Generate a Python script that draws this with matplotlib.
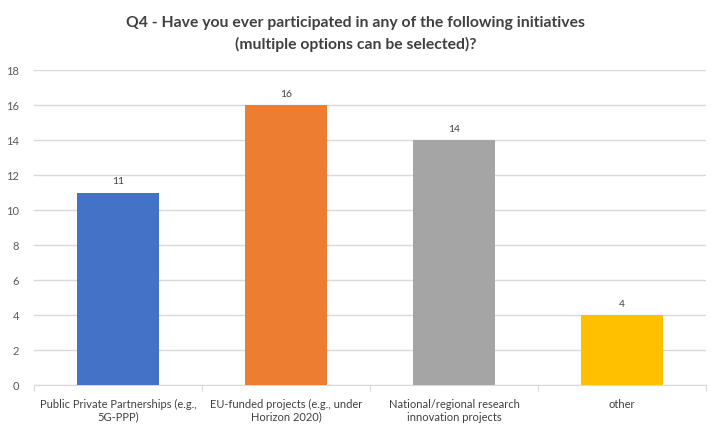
import matplotlib
matplotlib.use("Agg")
import matplotlib.pyplot as plt

categories = [
    "Public Private Partnerships (e.g.,\n5G-PPP)",
    "EU-funded projects (e.g., under\nHorizon 2020)",
    "National/regional research\ninnovation projects",
    "other",
]
values = [11, 16, 14, 4]
colors = ["#4472C4", "#ED7D31", "#A5A5A5", "#FFC000"]
yticks = [0, 2, 4, 6, 8, 10, 12, 14, 16, 18]
title = "Q4 - Have you ever participated in any of the following initiatives\n(multiple options can be selected)?"

plt.rcParams["font.family"] = ["Lato", "DejaVu Sans"]

fig = plt.figure(figsize=(7.11, 4.25), dpi=100)
ax = fig.add_axes([0.048, 0.094, 0.945, 0.741])

x = list(range(len(categories)))
ax.bar(x, values, width=0.49, color=colors, zorder=3)
for xi, v in zip(x, values):
    ax.text(xi, v + 0.35, str(v), ha="center", va="bottom", fontsize=7.5, color="#404040")

ax.set_xlim(-0.5, len(categories) - 0.5)
ax.set_ylim(0, 18)
ax.set_yticks(yticks)
ax.yaxis.grid(True, color="#D9D9D9", linewidth=1, zorder=0)
ax.tick_params(axis="y", length=0, labelsize=8, labelcolor="#595959", pad=11)

ax.set_xticks([i - 0.5 for i in range(len(categories) + 1)], minor=False)
ax.set_xticklabels([])
ax.set_xticks(x, minor=True)
ax.set_xticklabels(categories, minor=True, fontsize=8, color="#404040")
ax.tick_params(axis="x", which="major", length=4, color="#D9D9D9")
ax.tick_params(axis="x", which="minor", length=0, pad=10)

for s in ["top", "right", "left"]:
    ax.spines[s].set_visible(False)
ax.spines["bottom"].set_color("#D9D9D9")

fig.text(0.5, 0.920, title, ha="center", va="center", fontsize=11.3,
         fontweight="bold", color="#404040", linespacing=1.55)

fig.savefig("out.png", dpi=100)
